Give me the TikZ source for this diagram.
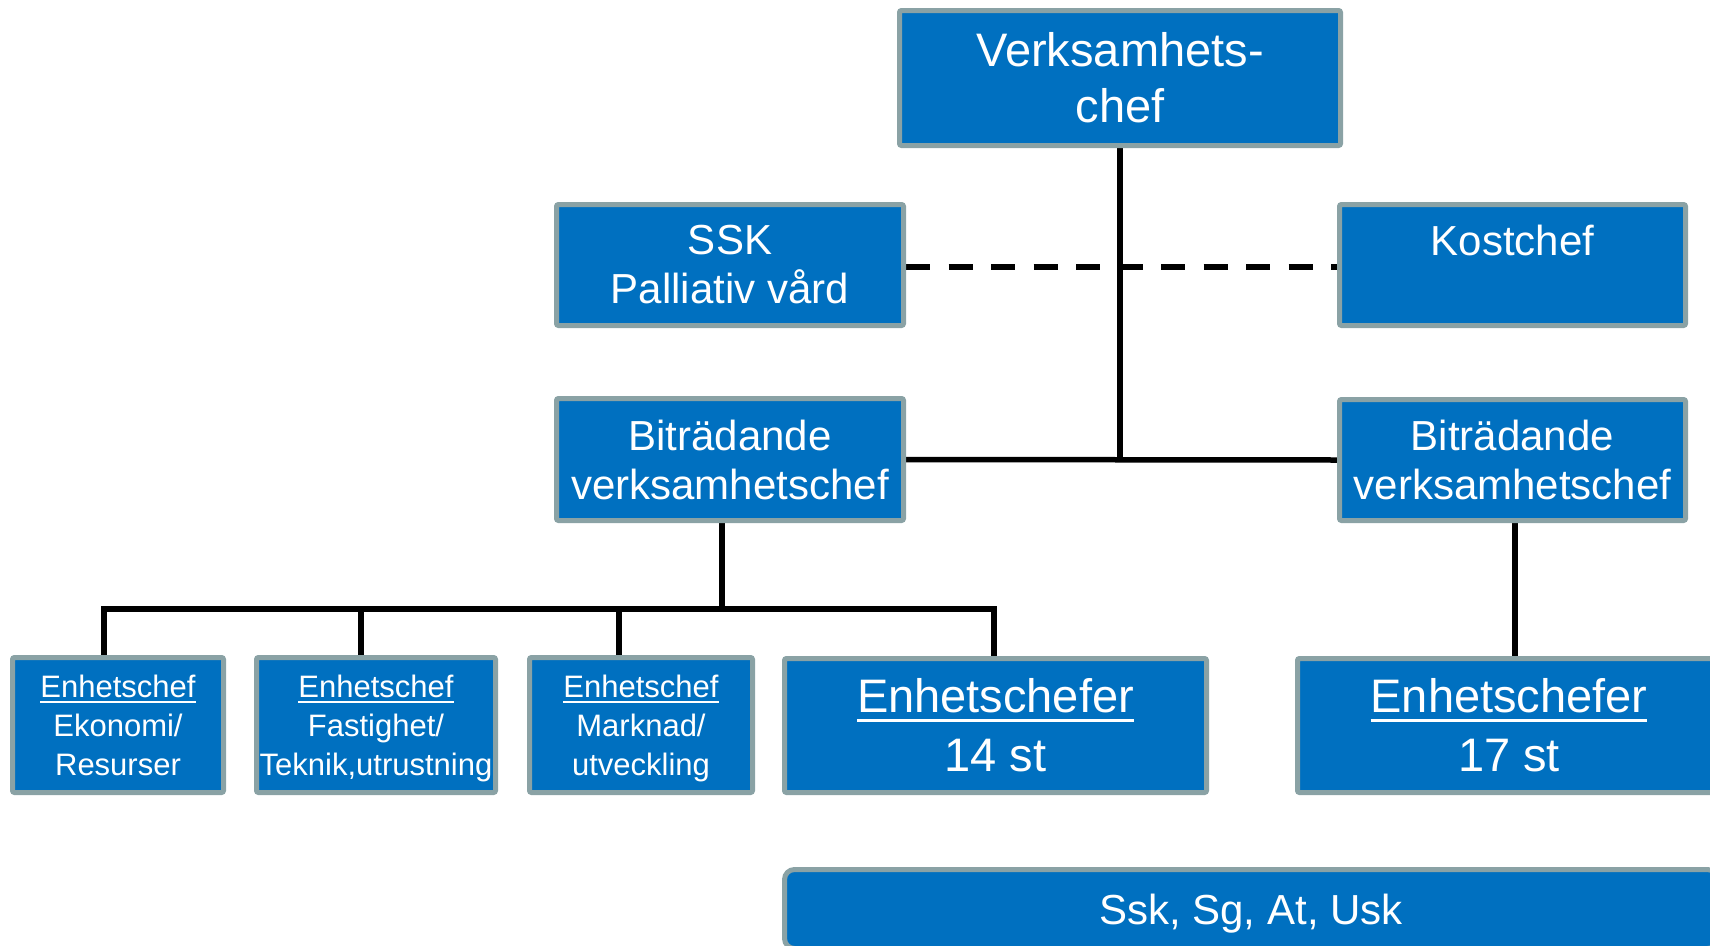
\documentclass[tikz,border=0pt]{standalone}
\usepackage{fontspec}
\setmainfont{Liberation Sans}
\usetikzlibrary{backgrounds}
\definecolor{pblue}{HTML}{0070C0}
\definecolor{bordercol}{HTML}{8AA2A5}
\newcommand{\ulin}[3]{\setbox0=\hbox{#1}\rlap{\rule[-#2]{\wd0}{#3}}\box0}
\newcommand{\nodepth}[1]{\raisebox{0pt}[\height][0pt]{#1}}
\begin{document}
\begin{tikzpicture}[x=1pt,y=-1pt,
  orgbox/.style={draw=bordercol, line width=5pt, fill=pblue, text=white, align=center, inner sep=0pt, rounded corners=2pt},
  conn/.style={line width=5.5pt, draw=black},
  dashconn/.style={conn, dash pattern=on 24pt off 18.5pt},
  ftop/.style={font=\fontsize{47}{56}\selectfont},
  fmid/.style={font=\fontsize{42}{49}\selectfont},
  fsmall/.style={font=\fontsize{31}{39}\selectfont},
  fbig/.style={font=\fontsize{47}{59}\selectfont}]
\clip (0,0) rectangle (1710,945);
\path[use as bounding box] (0,0) rectangle (1710,945);

\node[orgbox, ftop, minimum width=441pt, minimum height=135pt] (top) at (1120,78) {Verksamhets-\\chef};
\node[orgbox, fmid, minimum width=347pt, minimum height=121pt] (ssk) at (730,265) {SSK\\Palliativ vård};
\node[orgbox, fmid, minimum width=346pt, minimum height=121pt] (kost) at (1512.5,265) {Kostchef\\~};
\node[orgbox, fmid, minimum width=347pt, minimum height=122pt] (bitL) at (730,459.5) {Biträdande\\verksamhetschef};
\node[orgbox, fmid, minimum width=346pt, minimum height=121pt] (bitR) at (1512.5,460) {Biträdande\\verksamhetschef};

\node[orgbox, fsmall, minimum width=211pt, minimum height=135pt] (b1) at (118,725) {\ulin{Enhetschef}{6pt}{2.5pt}\\Ekonomi/\\Resurser};
\node[orgbox, fsmall, minimum width=239pt, minimum height=135pt] (b2) at (376,725) {\ulin{Enhetschef}{6pt}{2.5pt}\\Fastighet/\\\nodepth{Teknik,utrustning}};
\node[orgbox, fsmall, minimum width=223pt, minimum height=135pt] (b3) at (641,725) {\ulin{Enhetschef}{6pt}{2.5pt}\\Marknad/\\\nodepth{utveckling}};
\node[orgbox, fbig, minimum width=422pt, minimum height=134pt] (b4) at (995.5,725.5) {\ulin{Enhetschefer}{9pt}{3pt}\\14 st};
\node[orgbox, fbig, minimum width=423pt, minimum height=134pt] (b5) at (1509,725.5) {\ulin{Enhetschefer}{9pt}{3pt}\\17 st};

\node[orgbox, rounded corners=10pt, font=\fontsize{42}{50}\selectfont, text depth=0pt, minimum width=933pt, minimum height=79pt] (staff) at (1251,909) {Ssk, Sg, At, Usk};

\coordinate (d1) at (104,609);
\coordinate (d2) at (361,609);
\coordinate (d3) at (619,609);
\coordinate (d4) at (994,609);

\begin{scope}[on background layer]
  \draw[conn] (top.south) -- (top.south |- bitL.east);
  \draw[conn] (bitL.east) -- (bitR.west);
  \draw[dashconn] ([yshift=-2pt]ssk.east) -- ([yshift=-2pt]kost.west);
  \draw[conn] ([xshift=-8pt]bitL.south) -- ([xshift=-8pt]bitL.south |- d1);
  \draw[conn] (d1 |- b1.north) -- (d1) -- (d4) -- (d4 |- b4.north);
  \draw[conn] (d2) -- (d2 |- b2.north);
  \draw[conn] (d3) -- (d3 |- b3.north);
  \draw[conn] ([xshift=2.5pt]bitR.south) -- ([xshift=2.5pt]bitR.south |- b5.north);
\end{scope}
\end{tikzpicture}
\end{document}
